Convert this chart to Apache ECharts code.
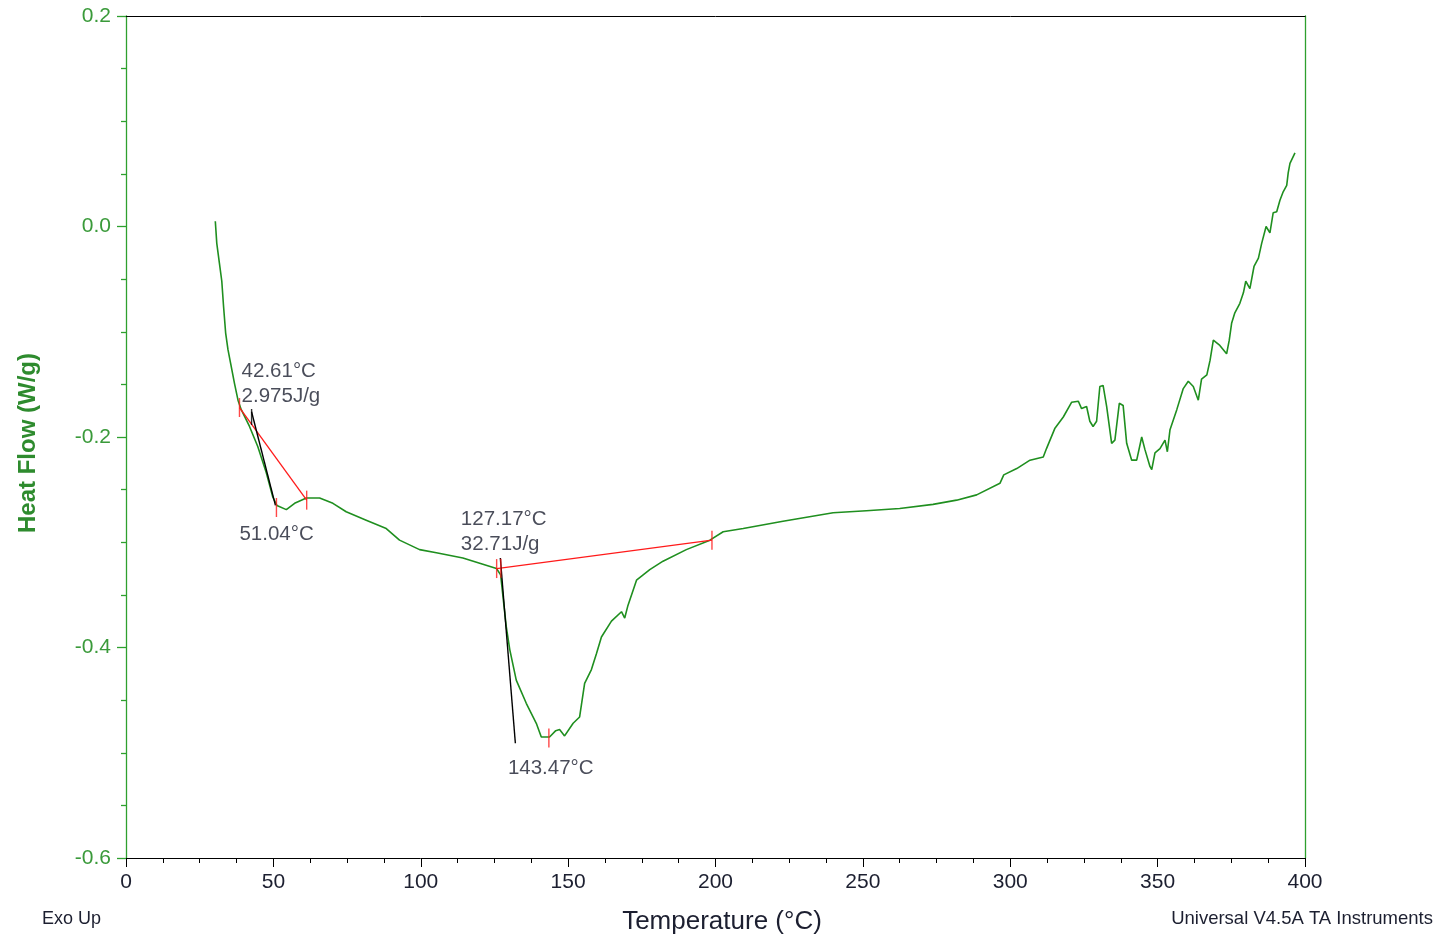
<!DOCTYPE html>
<html>
<head>
<meta charset="utf-8">
<script src="https://cdn.jsdelivr.net/npm/echarts@6/dist/echarts.min.js"></script>
<style>
html,body{margin:0;padding:0;background:#fff;}
#c{width:1440px;height:937px;}
</style>
</head>
<body>
<div id="c"></div>
<script>
// ---- Data ----
const temperature = [30.3,30.8,31.7,32.5,33.1,33.8,34.6,35.5,36.8,38.0,39.1,41.9,44.7,47.6,49.8,51.2,54.4,57.2,61.2,65.7,70.2,74.7,81.5,88.3,92.8,99.6,105.3,114.3,120.0,125.7,127.1,129.0,130.2,132.4,135.8,139.2,140.9,143.7,145.8,147.1,148.8,151.7,153.9,155.6,157.9,159.6,161.3,164.7,168.1,169.2,170.3,173.2,177.7,182.2,190.1,198.1,202.6,209.4,222.9,239.9,251.2,262.5,273.8,281.8,288.6,296.5,297.8,302.2,306.7,311.2,312.3,315.1,318.0,320.8,323.1,324.2,325.9,327.0,328.1,329.3,330.4,331.5,332.7,334.4,335.5,337.0,338.3,339.5,341.2,342.9,344.6,345.7,347.4,348.0,349.1,350.8,352.5,353.3,354.2,356.5,358.7,360.4,362.1,363.8,364.9,366.7,367.8,368.9,371.1,373.4,374.3,375.1,376.2,377.9,379.1,379.9,381.3,382.7,384.2,385.3,386.8,388.1,389.2,390.4,391.5,392.6,393.8,394.3,394.9,396.6];
const heatFlow = [0.005,-0.016,-0.035,-0.052,-0.076,-0.101,-0.117,-0.130,-0.149,-0.165,-0.174,-0.190,-0.209,-0.234,-0.257,-0.265,-0.269,-0.263,-0.258,-0.258,-0.263,-0.271,-0.279,-0.287,-0.298,-0.307,-0.310,-0.315,-0.320,-0.325,-0.331,-0.380,-0.402,-0.431,-0.453,-0.472,-0.485,-0.485,-0.479,-0.478,-0.484,-0.472,-0.466,-0.434,-0.421,-0.406,-0.390,-0.375,-0.366,-0.372,-0.360,-0.336,-0.326,-0.318,-0.307,-0.298,-0.290,-0.287,-0.280,-0.272,-0.270,-0.268,-0.264,-0.260,-0.255,-0.244,-0.236,-0.230,-0.222,-0.219,-0.211,-0.192,-0.181,-0.167,-0.166,-0.173,-0.171,-0.185,-0.190,-0.185,-0.152,-0.151,-0.171,-0.206,-0.203,-0.168,-0.170,-0.206,-0.222,-0.222,-0.200,-0.212,-0.228,-0.231,-0.215,-0.211,-0.203,-0.214,-0.193,-0.174,-0.154,-0.147,-0.152,-0.165,-0.145,-0.141,-0.127,-0.108,-0.113,-0.121,-0.108,-0.092,-0.082,-0.073,-0.063,-0.052,-0.059,-0.038,-0.030,-0.016,0.000,-0.006,0.013,0.014,0.025,0.033,0.039,0.051,0.060,0.070];

const xTicks = [0,50,100,150,200,250,300,350,400];
const yTicks = [-0.6,-0.4,-0.2,0.0,0.2];

// Peak analysis results
const peak1 = {onset: 42.61, enthalpy: 2.975, peakT: 51.04, peakY: -0.267};
const peak2 = {onset: 127.17, enthalpy: 32.71, peakT: 143.47, peakY: -0.486};

// Integration baselines (start / end points on the curve)
const baseline1 = [[38.5,-0.172],[61.3,-0.260]];
const baseline2 = [[125.75,-0.325],[198.8,-0.298]];
// Onset tangent lines
const tangent1 = [[42.6,-0.176],[50.7,-0.265]];
const tangent2 = [[127.0,-0.315],[132.1,-0.491]];

// ---- Chart ----
const green = '#1f8f1f';
const axisGreen = '#2ea02e';
const textDark = '#1c1f30';
const font = 'Liberation Sans, Arial, sans-serif';

const curve = temperature.map((t,i)=>[t,heatFlow[i]]);

const redTicks = [baseline1[0], baseline1[1], [peak1.peakT, peak1.peakY],
                  baseline2[0], [peak2.onset, baseline2[0][1]+0.0002], baseline2[1],
                  [peak2.peakT, peak2.peakY]];
const blackTicks = [[peak1.onset, -0.181]];

const labels = [
  {value:[peak1.onset, tangent1[0][1]], text: peak1.onset.toFixed(2)+'°C\n'+peak1.enthalpy.toFixed(3)+'J/g', pos:[-10,-53]},
  {value:[peak1.peakT, peak1.peakY], text: peak1.peakT.toFixed(2)+'°C', pos:[-37,14]},
  {value:[peak2.onset, baseline2[0][1]], text: peak2.onset.toFixed(2)+'°C\n'+peak2.enthalpy.toFixed(2)+'J/g', pos:[-40,-62]},
  {value:[peak2.peakT, peak2.peakY], text: peak2.peakT.toFixed(2)+'°C', pos:[-41,18]}
];

const chart = echarts.init(document.getElementById('c'), null, {renderer:'canvas'});
chart.setOption({
  animation:false,
  backgroundColor:'#fff',
  grid:{left:126, right:135, top:16, bottom:79, containLabel:false},
  xAxis:[{
    type:'value', min:xTicks[0], max:xTicks[xTicks.length-1], interval:50,
    axisLine:{show:true, onZero:false, lineStyle:{color:'#000', width:1}},
    axisTick:{show:true, length:9, lineStyle:{color:'#000'}},
    minorTick:{show:true, splitNumber:4, length:5, lineStyle:{color:'#000'}},
    splitLine:{show:false},
    axisLabel:{color:textDark, fontSize:21, fontFamily:font, margin:14},
  },{
    type:'value', position:'top', min:0, max:400,
    axisLine:{show:true, onZero:false, lineStyle:{color:'#000', width:1}},
    axisTick:{show:false}, axisLabel:{show:false}, splitLine:{show:false}
  }],
  yAxis:[{
    type:'value', min:yTicks[0], max:yTicks[yTicks.length-1], interval:0.2,
    axisLine:{show:true, onZero:false, lineStyle:{color:axisGreen, width:1.3}},
    axisTick:{show:true, length:9, lineStyle:{color:axisGreen, width:1.3}},
    minorTick:{show:true, splitNumber:4, length:5, lineStyle:{color:axisGreen, width:1.3}},
    splitLine:{show:false},
    axisLabel:{color:'#3a9a3a', fontSize:21, fontFamily:font, margin:15, formatter:v=>v.toFixed(1)},
  },{
    type:'value', position:'right', min:-0.6, max:0.2,
    axisLine:{show:true, onZero:false, lineStyle:{color:axisGreen, width:1.3}},
    axisTick:{show:false}, axisLabel:{show:false}, splitLine:{show:false}
  }],
  series:[
    {type:'line', data:curve, showSymbol:false, symbol:'none', lineStyle:{color:green, width:1.6}, z:3},
    {type:'line', data:baseline1, symbol:'none', lineStyle:{color:'#ff1a1a', width:1.3}, z:4},
    {type:'line', data:baseline2, symbol:'none', lineStyle:{color:'#ff1a1a', width:1.3}, z:4},
    {type:'line', data:tangent1, symbol:'none', lineStyle:{color:'#000', width:1.4}, z:4},
    {type:'line', data:tangent2, symbol:'none', lineStyle:{color:'#000', width:1.4}, z:4},
    {type:'scatter', data:redTicks, symbol:'rect', symbolSize:[1.4,19], itemStyle:{color:'#ff1a1a'}, z:5},
    {type:'scatter', data:blackTicks, symbol:'rect', symbolSize:[1.4,16], itemStyle:{color:'#000'}, z:5},
    {type:'scatter', symbolSize:0, z:6,
     data:labels.map(l=>({value:l.value, label:{show:true, formatter:l.text, position:l.pos, align:'left', verticalAlign:'top'}})),
     label:{color:textDark, fontSize:20.5, fontFamily:font, lineHeight:25}}
  ],
  graphic:[
    {type:'text', x:28, y:443, rotation:Math.PI/2, style:{x:0, y:0, text:'Heat Flow (W/g)', fill:'#2e8b2e', font:'bold 24px '+font, textAlign:'center', textVerticalAlign:'middle'}},
    {type:'text', style:{x:722, y:922, text:'Temperature (°C)', fill:textDark, font:'26px '+font, textAlign:'center', textVerticalAlign:'middle'}},
    {type:'text', style:{x:42, y:919, text:'Exo Up', fill:textDark, font:'18px '+font, textAlign:'left', textVerticalAlign:'middle'}},
    {type:'text', style:{x:1433, y:919, text:'Universal V4.5A TA Instruments', fill:textDark, font:'18.5px '+font, textAlign:'right', textVerticalAlign:'middle'}}
  ]
});
</script>
</body>
</html>
